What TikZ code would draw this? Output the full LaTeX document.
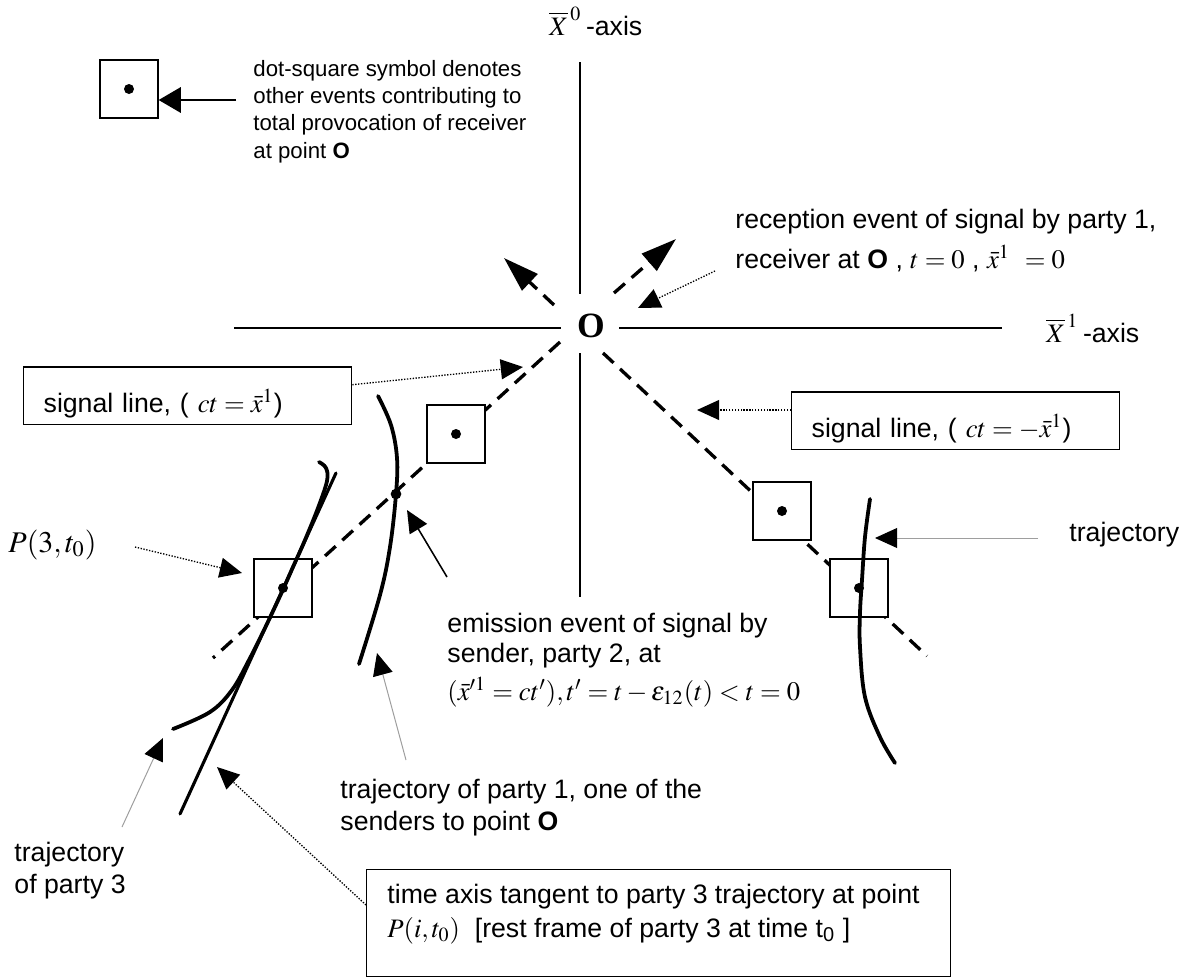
\documentclass[tikz,border=0pt]{standalone}
\usepackage{mathptmx}
\usepackage[no-math]{fontspec}
\setmainfont{Liberation Sans}
\newfontfamily\timesfont{Liberation Serif}
\definecolor{leadgray}{gray}{0.62}
\usetikzlibrary{arrows.meta, positioning, calc}
\tikzset{
	axisline/.style={line width=0.75pt},
	signal/.style={line width=1.5pt, dash pattern=on 6.5pt off 4pt},
	worldline/.style={line width=1.7pt, line cap=round},
	tangentline/.style={line width=1.4pt, line cap=round},
	eventbox/.style={rectangle, draw, fill=white, line width=0.6pt, minimum size=26.1pt, inner sep=0pt, path picture={\fill[black] (path picture bounding box.center) circle (2.25pt);}},
	evdot/.style={circle, fill, inner sep=0pt, minimum size=4.8pt},
	note/.style={inner sep=0pt, anchor=base west, align=left, font=\fontsize{12}{13.5}\selectfont},
	notebox/.style={rectangle, draw, line width=0.6pt, anchor=base west, align=left, inner xsep=9pt, inner ysep=0pt, text width=129.6pt, text height=20.25pt, text depth=5.6pt, font=\fontsize{12}{13.5}\selectfont},
	bigpointer/.style={-{Triangle[length=16pt, width=10pt]}},
	legpointer/.style={-{Triangle[length=10pt, width=11.5pt]}, line width=0.75pt},
	solidpointer/.style={-{Triangle[length=10pt, width=9pt]}, line width=0.7pt},
	dotpointer/.style={-{Triangle[length=10pt, width=9pt]}, line width=0.6pt, dash pattern=on 0.6pt off 0.7pt},
	leadpointer/.style={-{Triangle[length=10pt, width=9pt, color=black]}, line width=0.45pt, draw=leadgray},
}
\begin{document}
\begin{tikzpicture}[x=0.45pt, y=-0.45pt]
	\useasboundingbox (0,0) rectangle (1189,980);
	% axes
	\draw[axisline] (580,62) -- (580,294) (580,353) -- (580,597);
	\draw[axisline] (234,328) -- (561,328) (619,328) -- (1002,328);
	\node[inner sep=0pt, font=\fontsize{16}{17}\selectfont\timesfont\bfseries] (origin) at (591,326) {O};
	\node[note] (xzero) at (549,35) {$\overline{X}^{\,0}$\,-axis};
	\node[note] (xone) at (1046,342) {$\overline{X}^{\,1}$\,-axis};
	% signal lines
	\draw[signal] (560,342) -- (213,658);
	\draw[signal] (603,353) -- (927,656);
	\draw[signal, bigpointer] (554,305) -- (504,258);
	\draw[signal, bigpointer] (614,293) -- (676,239);
	% events
	\node[eventbox] (evlegend) at (129,89) {};
	\node[eventbox] (evA) at (456,434) {};
	\node[eventbox] (evP) at (283,588) {};
	\node[eventbox] (evB) at (782,511) {};
	\node[eventbox] (evC) at (859,588) {};
	% world lines
	\draw[worldline] plot[smooth, tension=0.6] coordinates {(378,396) (391,425) (397,458) (396,494) (390,547) (380,595) (359,664)};
	\draw[worldline] plot[smooth, tension=0.6] coordinates {(319,462) (326,468) (327,481) (318,508) (305,540) (293,567) (281,594) (265,628) (249,660) (232,690) (210,712) (173,729)};
	\draw[tangentline] (336,473) -- (180,814);
	\draw[worldline] plot[smooth, tension=0.6] coordinates {(870,499) (865,537) (862,580) (860,613) (860,647) (865,697) (880,737) (895,763)};
	\node[evdot] (emit) at (396,494) {};
	% texts
	\node[note, font=\fontsize{10}{12.3}\selectfont] (legendtext) at (253,158) {dot-square symbol denotes\\other events contributing to\\total provocation of receiver\\at point \textbf{O}};
	\node[note] (recvtext) at (735,268) {reception event of signal by party 1,\\[4.5pt]receiver at \textbf{O} , $t=0$ , $\bar{x}^{1}\;\,=0$};
	\node[notebox] (sigleft) at (23,412) {signal line, ( $ct=\bar{x}^{1}$)};
	\node[notebox] (sigright) at (791,437) {signal line, ( $ct=-\bar{x}^{1}$)};
	\node[note, font=\fontsize{13.5}{15}\selectfont] (plabel) at (8,552) {$P(3,t_{0})$};
	\node[note] (emittext) at (447,700) {emission event of signal by\\sender, party 2, at\\[3.6pt]$(\bar{x}'^{1}=ct'),t'=t-\varepsilon_{12}(t)<t=0$};
	\node[note] (partyonetext) at (340,830) {trajectory of party 1, one of the\\[0.9pt]senders to point \textbf{O}};
	\node[note] (partythreetext) at (14,893) {trajectory\\[0.5pt]of party 3};
	\node[note] (trajtext) at (1069,541) {trajectory};
	\node[draw, line width=0.6pt, anchor=north west, minimum width=262.8pt, minimum height=48.2pt, inner sep=0pt] (tangentbox) at (366,869) {};
	\node[note] (tangenttext) at (387,937) {time axis tangent to party 3 trajectory at point\\[1.8pt]$P(i,t_{0})$\ \ [rest frame of party 3 at time t\textsubscript{0} ]};
	% pointers
	\coordinate (legtail) at (236,100);
	\coordinate (recvtail) at (715,271);
	\coordinate (recvtip) at (638,308);
	\coordinate (sigLtip) at (523,367);
	\coordinate (sigRtip) at (697,410);
	\coordinate (ptail) at (135,547);
	\coordinate (ptip) at (242,573);
	\coordinate (emtail) at (447,577);
	\coordinate (emtip) at (407,510);
	\coordinate (ponetail) at (406,760);
	\coordinate (ponetip) at (377,653);
	\coordinate (pthreetail) at (122,827);
	\coordinate (pthreetip) at (163,738);
	\coordinate (tangtip) at (217,767);
	\coordinate (trajtail) at (1038,538);
	\coordinate (trajtip) at (875,538);
	\draw[legpointer] (legtail) -- (legtail -| evlegend.east);
	\draw[dotpointer] (recvtail) -- (recvtip);
	\draw[dotpointer] ($(sigleft.east)+(0,-11)$) -- (sigLtip);
	\draw[dotpointer] (sigright.west |- sigRtip) -- (sigRtip);
	\draw[dotpointer] (ptail) -- (ptip);
	\draw[solidpointer] (emtail) -- (emtip);
	\draw[leadpointer] (ponetail) -- (ponetip);
	\draw[leadpointer] (pthreetail) -- (pthreetip);
	\draw[dotpointer] ($(tangentbox.north west)+(0,36)$) -- (tangtip);
	\draw[leadpointer] (trajtail) -- (trajtip);
\end{tikzpicture}
\end{document}
